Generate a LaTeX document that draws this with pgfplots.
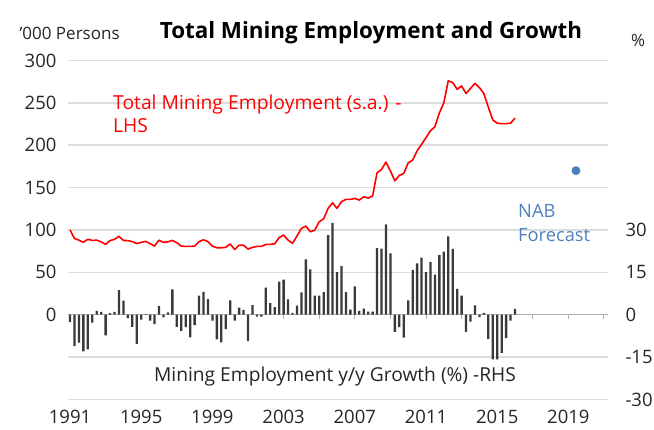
\documentclass[border=0pt]{standalone}
\usepackage{pgfplots}
\pgfplotsset{compat=1.18}
\usepackage{pgfplotstable}
\usepackage{fontspec}
\setmainfont{Open Sans}
\definecolor{nabblue}{HTML}{4F81BD}
\definecolor{dotblue}{HTML}{4A7EBB}
\definecolor{gridgray}{HTML}{DCDCDC}
\definecolor{bargray}{HTML}{3A3A3A}

% quarter index (0 = 1991 Q1), employment '000 persons
\pgfplotstableread{
q emp
0 100
1 90
2 88
3 85.5
4 89
5 87.7
6 88
7 86
8 83
9 87.5
10 89
11 92.5
12 87.7
13 87.5
14 86.3
15 84
16 85.4
17 86.5
18 84
19 81
20 88
21 85.4
22 86
23 87.7
24 85
25 81
26 80.6
27 80.6
28 81
29 86.3
30 88.5
31 86.3
32 81
33 79
34 79
35 79.6
36 83.5
37 77
38 82
39 82
40 77.5
41 79.5
42 80.6
43 80.6
44 83
45 83
46 83.8
47 91
48 94
49 88
50 84.2
51 92.8
52 101.9
53 104.6
54 97.9
55 99.9
56 109.7
57 113.2
58 125.5
59 132.1
60 125.5
61 133.3
62 136.1
63 136.1
64 137.3
65 135.3
66 139.2
67 137.7
68 140
69 167.5
70 171.4
71 180.1
72 169.8
73 158
74 164.4
75 166.7
76 179.2
77 182.4
78 193.4
79 201
80 209
81 217
82 222
83 238
84 250
85 276
86 274
87 266
88 270
89 261
90 267
91 273
92 268
93 261
94 245
95 230
96 226
97 225.5
98 225.5
99 226
100 232
}\emptable

% quarter index, y/y growth %
\pgfplotstableread{
q g
0 -2.6
1 -11.1
2 -9.9
3 -13.0
4 -12.3
5 -2.8
6 1.4
7 1.0
8 -7.3
9 0.6
10 1.0
11 8.7
12 5.0
13 -1.2
14 -4.3
15 -10.3
16 -1.7
17 0.2
18 -2.1
19 -3.3
20 3.1
21 -0.9
22 0.8
23 9.0
24 -4.3
25 -5.7
26 -4.4
27 -8.0
28 -3.7
29 6.8
30 8.1
31 5.5
32 -2.1
33 -8.7
34 -9.8
35 -5.1
36 5.1
37 -2.1
38 2.5
39 1.7
40 -9.3
41 3.4
42 -0.7
43 -0.7
44 9.6
45 4.1
46 2.7
47 11.7
48 12.4
49 5.4
50 0.7
51 3.2
52 7.9
53 19.6
54 16.1
55 6.8
56 6.8
57 8.0
58 28.2
59 32.5
60 15.1
61 17.2
62 8.0
63 1.8
64 10.0
65 1.4
66 2.2
67 1.1
68 1.1
69 23.6
70 23.4
71 32.0
72 21.7
73 -6.1
74 -4.4
75 -8.1
76 5.1
77 15.9
78 18.2
79 20.2
80 15.1
81 18.7
82 14.2
83 21.1
84 22.3
85 27.7
86 23.3
87 9.2
88 6.8
89 -6.1
90 -2.4
91 3.3
92 -0.8
93 0.6
94 -8.5
95 -15.8
96 -15.8
97 -13.5
98 -8.3
99 -2.1
100 2.1
}\growtable

\begin{document}
\begin{tikzpicture}[x=1pt,y=1pt]
\path[use as bounding box] (0,0) rectangle (654,430);
\fill[white] (0,0) rectangle (654,430);

% left axis: employment
\begin{axis}[
  at={(68pt,30.5pt)}, anchor=south west,
  scale only axis, width=540pt, height=339pt,
  xmin=-0.45, xmax=120.9, ymin=-100, ymax=300,
  hide x axis, axis y line*=left,
  y axis line style={draw=none},
  ytick={0,50,100,150,200,250,300},
  yticklabels={0,50,100,150,200,250,300},
  major tick length=0pt,
  tick label style={font=\fontsize{18.5}{21}\selectfont, text=black!85},
  yticklabel style={xshift=-8pt},
  clip=false,
]
% horizontal grid lines
\pgfplotsinvokeforeach{-100,-50,50,100,150,200,250,300}{
  \draw[draw=gridgray, line width=1.5pt] (axis cs:-0.45,#1) -- (axis cs:120.9,#1);
}
\addplot[red, line width=1.6pt, line join=round] table[x=q, y=emp] {\emptable};
\addplot[only marks, mark=*, mark size=4.2pt, dotblue] coordinates {(113.7,170)};
\end{axis}

% right axis: growth bars
\begin{axis}[
  at={(68pt,30.5pt)}, anchor=south west,
  scale only axis, width=540pt, height=339pt,
  xmin=-0.45, xmax=120.9, ymin=-30, ymax=90,
  axis x line*=middle, axis y line*=right,
  x axis line style={draw=gray!60, line width=1pt},
  y axis line style={draw=none},
  xtick={0,8,...,120}, xticklabels={},
  x tick style={draw=gray!60, line width=1pt},
  xtick align=outside, major tick length=4pt,
  ytick={-30,-15,0,15,30},
  yticklabels={-30,-15,0,15,30},
  y tick style={draw=none},
  tick label style={font=\fontsize{18.5}{21}\selectfont, text=black!85},
  yticklabel style={anchor=west, xshift=14pt},
  clip=false,
]
\addplot[ybar, bar width=2.3pt, fill=bargray, draw=none] table[x=q, y=g] {\growtable};
\end{axis}

% x tick labels along the bottom edge
\begin{axis}[
  at={(68pt,30.5pt)}, anchor=south west,
  scale only axis, width=540pt, height=339pt,
  xmin=-0.45, xmax=120.9, ymin=0, ymax=1,
  axis x line*=bottom, hide y axis,
  x axis line style={draw=none},
  xtick={0,16,32,48,64,80,96,112},
  xticklabels={1991,1995,1999,2003,2007,2011,2015,2019},
  major tick length=0pt,
  tick label style={font=\fontsize{18.5}{21}\selectfont, text=black!85},
  xticklabel style={yshift=-7pt},
]
\end{axis}

% texts
\node[anchor=west, font=\fontsize{17}{20}\selectfont, text=black!85] at (16,397) {'000 Persons};
\node[font=\bfseries\fontsize{22.4}{26}\selectfont] at (371,397) {Total Mining Employment and Growth};
\node[font=\fontsize{17}{20}\selectfont, text=black!85] at (638,390) {\%};
\node[anchor=base west, font=\fontsize{19.3}{25}\selectfont, text=red, inner sep=0pt] at (113,320.7) {Total Mining Employment (s.a.) -};
\node[anchor=base west, font=\fontsize{19.3}{25}\selectfont, text=red, inner sep=0pt] at (113,297.3) {LHS};
\node[anchor=base west, font=\fontsize{18.3}{25}\selectfont, text=nabblue, inner sep=0pt] at (518,212.5) {NAB};
\node[anchor=base west, font=\fontsize{18.3}{25}\selectfont, text=nabblue, inner sep=0pt] at (518,188.5) {Forecast};
\node[anchor=base, font=\fontsize{19.2}{25}\selectfont, text=black!85, inner sep=0pt] at (335,48) {Mining Employment y/y Growth (\%) -RHS};
\end{tikzpicture}
\end{document}
